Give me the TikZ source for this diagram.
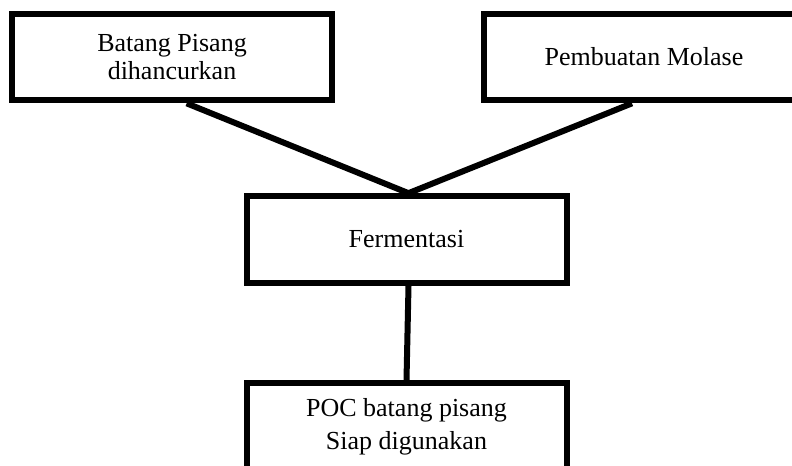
\documentclass[tikz,border=0pt]{standalone}
\usepackage{fontspec}
\setmainfont{Liberation Serif}
\begin{document}
\begin{tikzpicture}[x=0.75pt, y=-0.75pt,
        box/.style={draw, line width=4.5pt, minimum width=240pt, minimum height=65pt, inner sep=0pt, align=center, font=\fontsize{19.5}{21}\selectfont},
        link/.style={line width=4.5pt}]
        \useasboundingbox (0,0) rectangle (792,465);
        \clip (0,0) rectangle (792,465);

        \node [box] (batang) at (172,57) {Batang Pisang\\dihancurkan};
        \node [box] (molase) at (644,57) {Pembuatan Molase};
        \node [box] (ferm) at (406.5,239.5) {Fermentasi};
        \node [box] (poc) at (406.5,426.5) {POC batang pisang\\[3.5pt]Siap digunakan};

        \draw [link] ([xshift=11pt]batang.south) -- ([xshift=1.5pt]ferm.north);
        \draw [link] ([xshift=-9pt]molase.south) -- ([xshift=1.5pt]ferm.north);
        \draw [link] ([xshift=1.5pt]ferm.south) -- ([xshift=0pt]poc.north);
\end{tikzpicture}
\end{document}
